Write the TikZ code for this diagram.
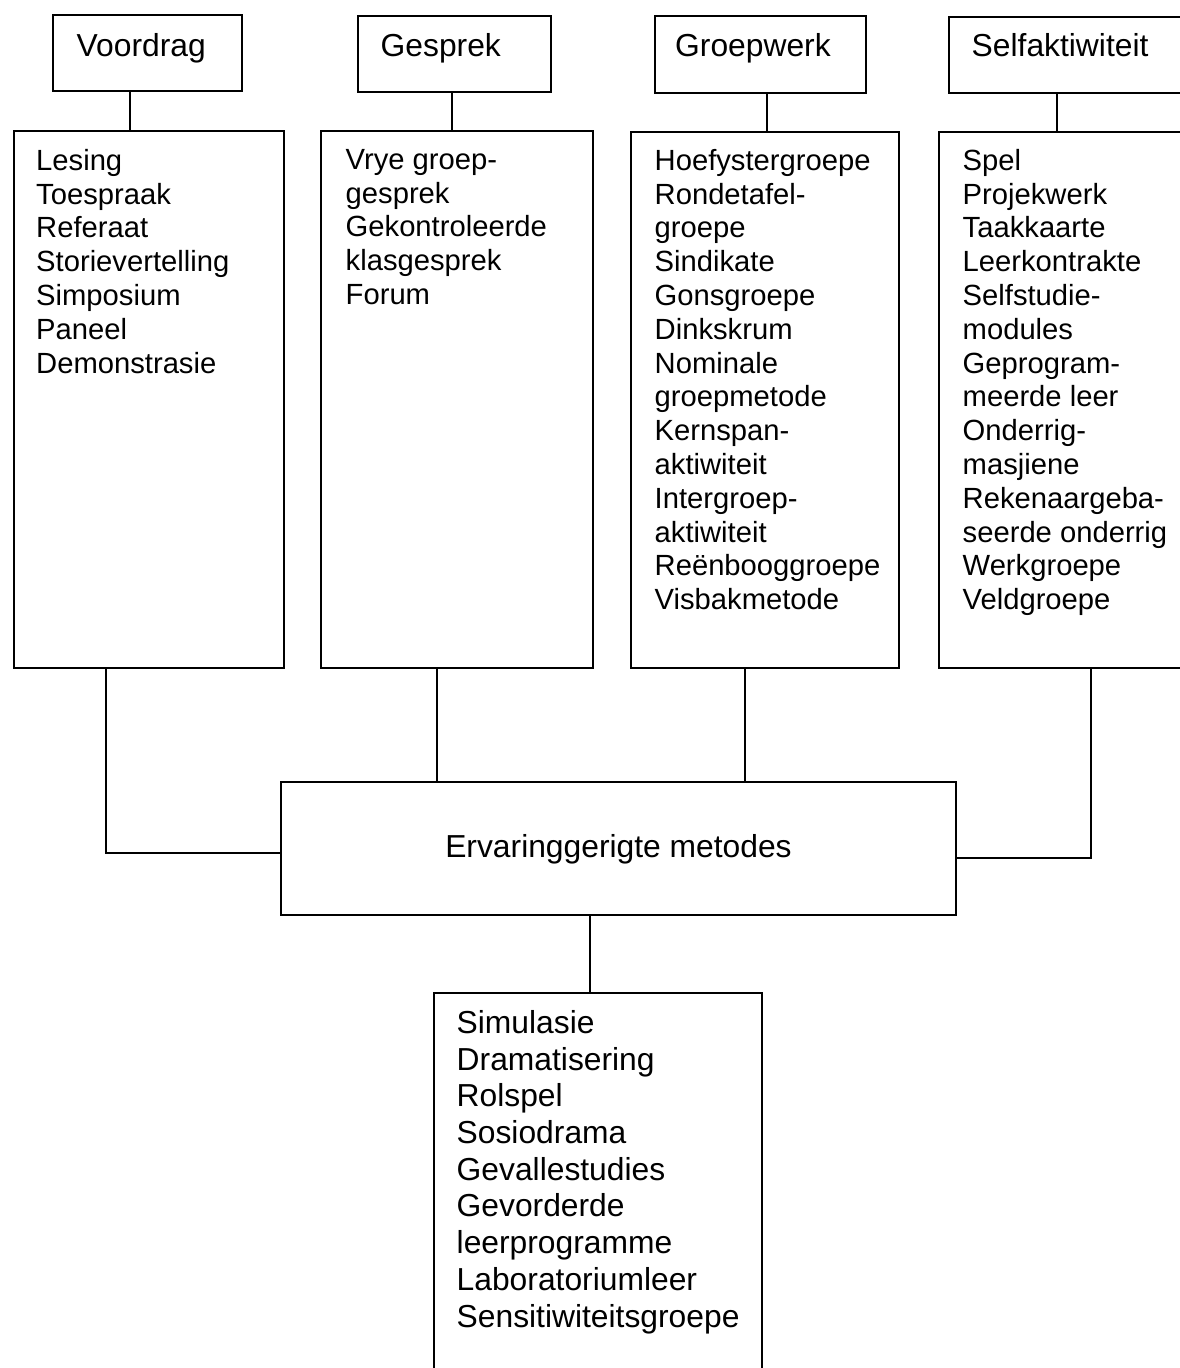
\documentclass[tikz,border=0pt]{standalone}
\usepackage{fontspec}
\setmainfont{Liberation Sans}
\begin{document}
\begin{tikzpicture}[x=1pt,y=-1pt,
  box/.style={draw, line width=1.5pt, rectangle, inner sep=0pt},
  link/.style={line width=1.4pt},
  head/.style={anchor=base west, inner sep=0pt, font=\fontsize{31.8}{36}\selectfont},
  list/.style={anchor=north west, inner sep=0pt, align=left, font=\fontsize{29.2}{33.8}\selectfont},
  blist/.style={anchor=north west, inner sep=0pt, align=left, font=\fontsize{31.8}{36.7}\selectfont}]
\useasboundingbox (0,0) rectangle (1180,1368);
\clip (0,0) rectangle (1180,1368);

% category boxes along the top
\node[box, minimum width=189pt, minimum height=76pt] (vd) at (147.5,53) {};
\node[box, minimum width=193pt, minimum height=76pt] (gs) at (454.5,54) {};
\node[box, minimum width=211pt, minimum height=77pt] (gw) at (760.5,54.5) {};
\node[box, minimum width=261pt, minimum height=76pt] (sa) at (1079.5,55) {};
\node[head] (vd-t) at (76.5,56) {Voordrag};
\node[head] (gs-t) at (380.5,56) {Gesprek};
\node[head] (gw-t) at (675,56) {Groepwerk};
\node[head] (sa-t) at (971.5,56.5) {Selfaktiwiteit};

% method lists
\node[box, minimum width=270pt, minimum height=537pt] (ls) at (149,399.5) {};
\node[box, minimum width=272pt, minimum height=537pt] (vr) at (457,399.5) {};
\node[box, minimum width=268pt, minimum height=536pt] (hf) at (765,400) {};
\node[box, minimum width=271pt, minimum height=536pt] (sp) at (1074.5,400) {};

\node[list] (ls-t) at (36,149) {Lesing\\Toespraak\\Referaat\\Storievertelling\\Simposium\\Paneel\\Demonstrasie};
\node[list] (vr-t) at (345.5,149) {Vrye groep-\\gesprek\\Gekontroleerde\\klasgesprek\\Forum};
\node[list] (hf-t) at (654.5,149) {Hoefystergroepe\\Rondetafel-\\groepe\\Sindikate\\Gonsgroepe\\Dinkskrum\\Nominale\\groepmetode\\Kernspan-\\aktiwiteit\\Intergroep-\\aktiwiteit\\Reënbooggroepe\\Visbakmetode};
\node[list] (sp-t) at (962.5,149) {Spel\\Projekwerk\\Taakkaarte\\Leerkontrakte\\Selfstudie-\\modules\\Geprogram-\\meerde leer\\Onderrig-\\masjiene\\Rekenaargeba-\\seerde onderrig\\Werkgroepe\\Veldgroepe};

% central box
\node[box, minimum width=675pt, minimum height=133pt] (ev) at (618.5,848.5) {};
\node[head, anchor=base] (ev-t) at (618.5,857.3) {Ervaringgerigte metodes};

% bottom list
\node[box, minimum width=328pt, minimum height=407pt] (sm) at (598,1196.5) {};
\node[blist] (sm-t) at (456.5,1010.2) {Simulasie\\Dramatisering\\Rolspel\\Sosiodrama\\Gevallestudies\\Gevorderde\\leerprogramme\\Laboratoriumleer\\Sensitiwiteitsgroepe};

% connectors
\draw[link] (vd.south -| 130,0) -- (ls.north -| 130,0);
\draw[link] (gs.south -| 452,0) -- (vr.north -| 452,0);
\draw[link] (gw.south -| 767,0) -- (hf.north -| 767,0);
\draw[link] (sa.south -| 1057,0) -- (sp.north -| 1057,0);

\draw[link] (ls.south -| 106,0) |- (ev.west |- 0,853);
\draw[link] (vr.south -| 437,0) -- (ev.north -| 437,0);
\draw[link] (hf.south -| 745,0) -- (ev.north -| 745,0);
\draw[link] (sp.south -| 1091,0) |- (ev.east |- 0,858);
\draw[link] (ev.south -| 590,0) -- (sm.north -| 590,0);
\end{tikzpicture}
\end{document}
